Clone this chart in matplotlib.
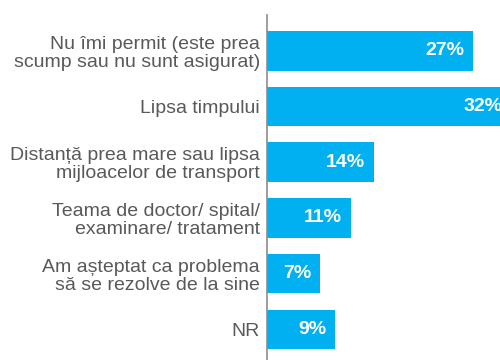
import matplotlib.pyplot as plt

plt.rcParams['font.family'] = ['Liberation Sans', 'DejaVu Sans']

reasons = [
    "Nu îmi permit (este prea\nscump sau nu sunt asigurat)",
    "Lipsa timpului",
    "Distanță prea mare sau lipsa\nmijloacelor de transport",
    "Teama de doctor/ spital/\nexaminare/ tratament",
    "Am așteptat ca problema\nsă se rezolve de la sine",
    "NR",
]
shares = [27, 32, 14, 11, 7, 9]

fig = plt.figure(figsize=(5, 3.6), dpi=100)
ax = fig.add_axes([0.5334, 0.0, 0.4666, 0.958])

pos = range(len(reasons))
ax.barh(pos, shares, height=0.71, color='#00B0F0')

for y, v in zip(pos, shares):
    ax.annotate(f"{v}%", xy=(v, y), xytext=(-6.5, 0), textcoords='offset points',
                ha='right', va='center', color='white', fontsize=14,
                fontweight='bold', annotation_clip=False)

ax.set_yticks(list(pos))
ax.set_yticklabels(reasons, fontsize=14, color='#595959', linespacing=1.08)
ax.tick_params(axis='y', length=0, pad=5)
ax.set_xticks([])
ax.set_xlim(0, 30.54)
ax.set_ylim(5.55, -0.64)

for s in ['top', 'right', 'bottom']:
    ax.spines[s].set_visible(False)
ax.spines['left'].set_color('#8c8c8c')
ax.spines['left'].set_linewidth(1.2)

fig.savefig('out.png', dpi=100)
